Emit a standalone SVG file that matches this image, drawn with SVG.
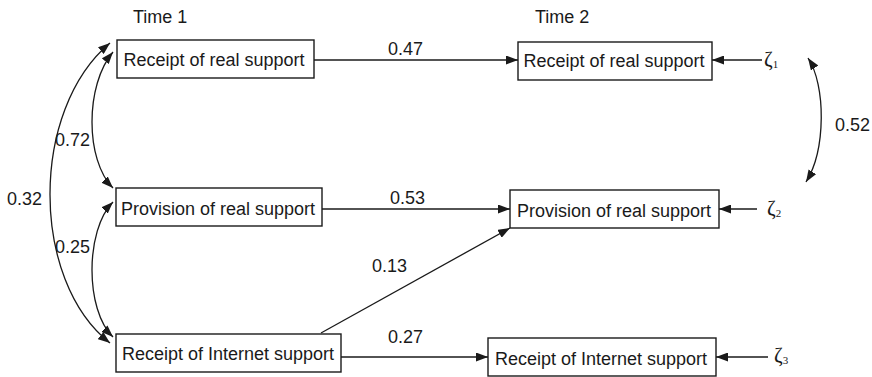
<svg xmlns="http://www.w3.org/2000/svg" width="872" height="377" viewBox="0 0 872 377">
<style>
text{font-family:"Liberation Sans",Arial,sans-serif;font-size:18px;fill:#1a1a1a}
.z{font-family:"Liberation Serif","Times New Roman",serif;font-size:21px}
.s{font-size:11px}
.box{fill:#fff;stroke:#1a1a1a;stroke-width:1.4}
.c{fill:none;stroke:#1a1a1a;stroke-width:1.3}
.m{text-anchor:middle}
</style>
<defs>
<marker id="ah" viewBox="0 0 12 9" refX="12" refY="4.5" markerWidth="12" markerHeight="9" markerUnits="userSpaceOnUse" orient="auto-start-reverse">
<path d="M0,0 L12,4.5 L0,9 z" fill="#1a1a1a"/>
</marker>
</defs>
<rect width="872" height="377" fill="#fff"/>
<text x="133" y="23">Time 1</text>
<text x="535" y="23">Time 2</text>
<g id="connectors">
<line class="c" x1="314" y1="60" x2="518" y2="60" marker-end="url(#ah)"/>
<line class="c" x1="322" y1="209" x2="510" y2="209" marker-end="url(#ah)"/>
<line class="c" x1="341" y1="357" x2="488" y2="357" marker-end="url(#ah)"/>
<line class="c" x1="321" y1="333" x2="510" y2="228" marker-end="url(#ah)"/>
<line class="c" x1="762" y1="60" x2="712" y2="60" marker-end="url(#ah)"/>
<line class="c" x1="757" y1="209" x2="719" y2="209" marker-end="url(#ah)"/>
<line class="c" x1="768" y1="357" x2="716" y2="357" marker-end="url(#ah)"/>
<path class="c" d="M113 52 C85 85,85 160,113 188" marker-start="url(#ah)" marker-end="url(#ah)"/>
<path class="c" d="M110 43 C30 110,30 280,110 343" marker-start="url(#ah)" marker-end="url(#ah)"/>
<path class="c" d="M113 202 C85 230,85 310,113 337" marker-start="url(#ah)" marker-end="url(#ah)"/>
<path class="c" d="M808 58 C826 85,826 150,806 182" marker-start="url(#ah)" marker-end="url(#ah)"/>
<text x="388" y="55">0.47</text>
<text x="390" y="204">0.53</text>
<text x="372" y="272">0.13</text>
<text x="388" y="343">0.27</text>
<text x="55" y="146">0.72</text>
<text x="7" y="205">0.32</text>
<text x="55" y="253">0.25</text>
<text x="835" y="131">0.52</text>
</g>
<g id="t1_real_receipt">
<rect class="box" x="117" y="40" width="197" height="38"/>
<text class="m" x="214" y="66">Receipt of real support</text>
</g>
<g id="t1_real_provision">
<rect class="box" x="116" y="188" width="206" height="38"/>
<text class="m" x="218" y="215">Provision of real support</text>
</g>
<g id="t1_internet_receipt">
<rect class="box" x="116" y="334" width="225" height="38"/>
<text class="m" x="228" y="360">Receipt of Internet support</text>
</g>
<g id="t2_real_receipt">
<rect class="box" x="518" y="42" width="194" height="38"/>
<text class="m" x="614" y="67">Receipt of real support</text>
</g>
<g id="t2_real_provision">
<rect class="box" x="510" y="190" width="209" height="38"/>
<text class="m" x="614" y="217">Provision of real support</text>
</g>
<g id="t2_internet_receipt">
<rect class="box" x="488" y="338" width="228" height="38"/>
<text class="m" x="601" y="365">Receipt of Internet support</text>
</g>
<g id="zeta1"><text class="z" x="764" y="66">ζ<tspan class="s" dy="2">1</tspan></text></g>
<g id="zeta2"><text class="z" x="767" y="215">ζ<tspan class="s" dy="2">2</tspan></text></g>
<g id="zeta3"><text class="z" x="774" y="362">ζ<tspan class="s" dy="2">3</tspan></text></g>
</svg>
